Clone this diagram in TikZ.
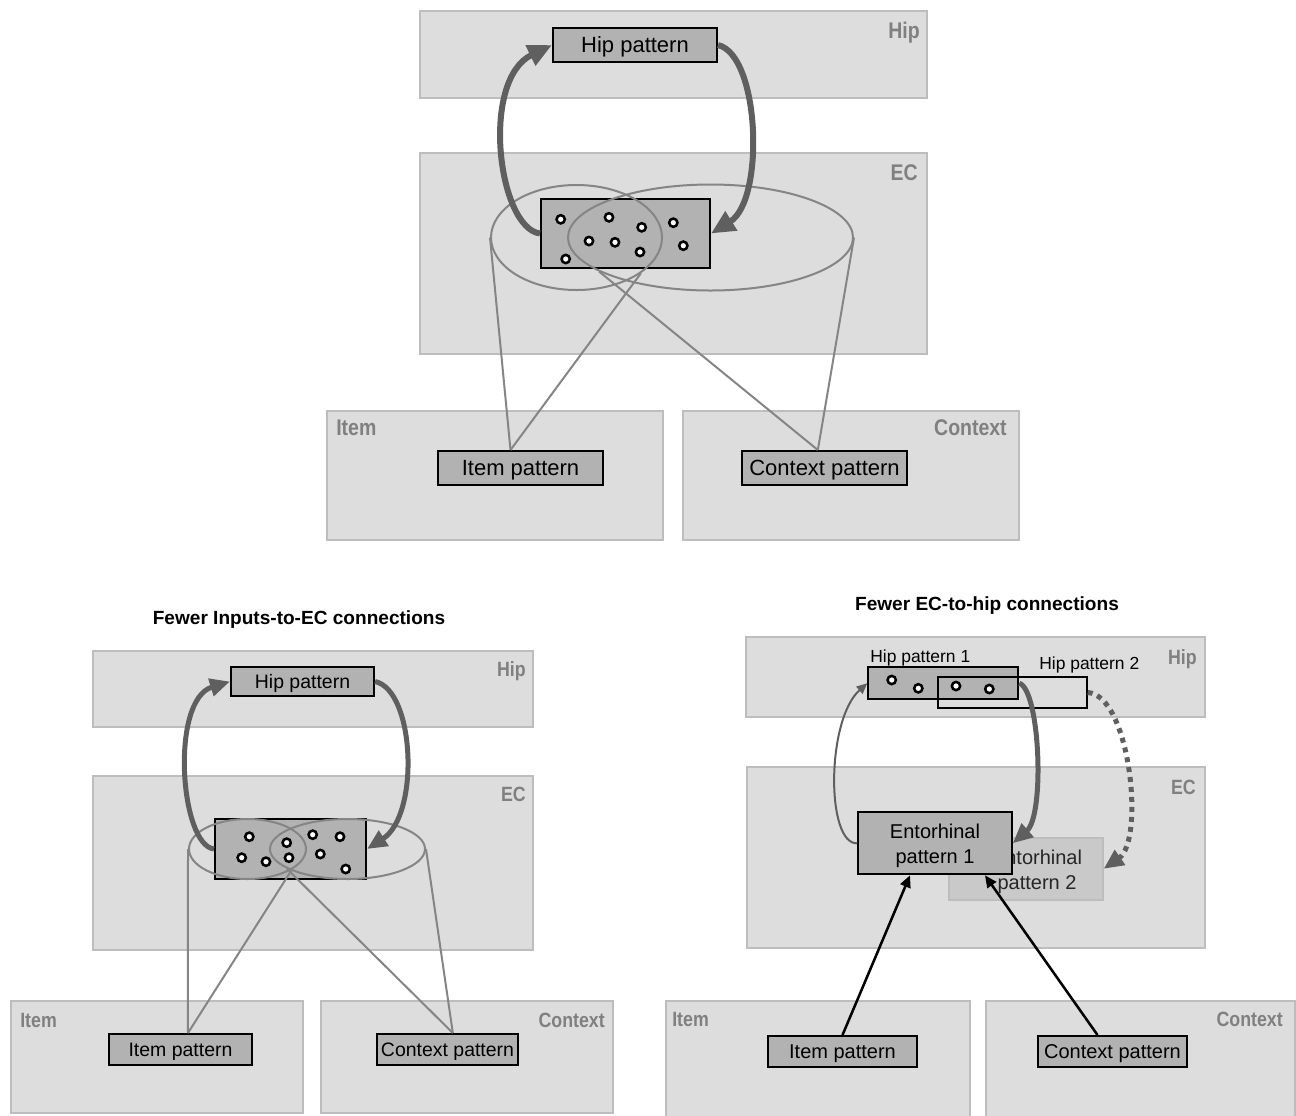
\documentclass[tikz,border=0pt]{standalone}
\usepackage{fontspec}
\setmainfont{Liberation Sans}
\newfontfamily\narrowfont[FakeStretch=0.86]{Liberation Sans}
\usepackage{tikz}
\usetikzlibrary{shapes,arrows.meta,positioning}

\definecolor{regionfill}{HTML}{DDDDDD}
\definecolor{regionline}{HTML}{BDBDBD}
\definecolor{labelgray}{HTML}{808080}
\definecolor{patfill}{HTML}{B2B2B2}
\definecolor{linegray}{HTML}{858585}
\definecolor{arrowgray}{HTML}{5F5F5F}

\newcommand{\patbig}{\fontsize{16.5}{19.8}\selectfont}
\newcommand{\patmid}{\fontsize{15}{18.8}\selectfont}
\newcommand{\patsmall}{\fontsize{14.6}{17.5}\selectfont}
\newcommand{\hiplab}{\fontsize{13.1}{15.7}\selectfont}

\tikzset{
  region/.style={fill=regionfill, draw=regionline, line width=1.6pt},
  reglabel/.style={inner sep=0, text=labelgray, font=\narrowfont\bfseries\fontsize{17}{20}\selectfont},
  reglabelsm/.style={inner sep=0, text=labelgray, font=\narrowfont\bfseries\fontsize{15.5}{18}\selectfont},
  pat/.style={draw, fill=patfill, line width=1.5pt, inner sep=0, text depth=0pt},
  dot/.style={circle, draw, fill=white, line width=1.9pt, minimum size=6.2pt, inner sep=0},
  oval/.style={ellipse, draw=linegray, line width=1.5pt, inner sep=0},
  link/.style={draw=linegray, line width=1.5pt},
  loopbig/.style={draw=arrowgray, line width=4.5pt, -{Triangle[length=18pt,width=16pt]}},
  loopmid/.style={draw=arrowgray, line width=3.75pt, -{Triangle[length=15pt,width=13pt]}},
  loopthin/.style={draw=arrowgray, line width=1.5pt, -{Triangle[length=8pt,width=7pt]}},
  loopdots/.style={draw=arrowgray, line width=3.75pt, dash pattern=on 3.75pt off 3.75pt, -{Triangle[length=15pt,width=13pt]}},
  feed/.style={draw=black, line width=1.9pt, -{Triangle[length=9pt,width=8pt]}},
  paneltitle/.style={inner sep=0, font=\bfseries\fontsize{14.3}{17}\selectfont}
}

\begin{document}
\begin{tikzpicture}[x=0.75pt,y=-0.75pt]
    \useasboundingbox (0,0) rectangle (1296,1115);

    % Top panel: regions
    \draw[region] (420,11) rectangle (927,98);
    \draw[region] (420,153) rectangle (927,354);
    \draw[region] (327,411) rectangle (663,540);
    \draw[region] (683,411) rectangle (1019,540);
    \node[reglabel, anchor=base east] (hiplabA) at (920,38) {Hip};
    \node[reglabel, anchor=base east] (eclabA) at (918,180) {EC};
    \node[reglabel, anchor=base west] (itemlabA) at (336,435) {Item};
    \node[reglabel, anchor=base east] (ctxlabA) at (1007,435) {Context};

    % Top panel: patterns
    \node[pat, minimum width=123pt, minimum height=25.5pt, font=\patbig] (hip) at (635,45) {Hip pattern};
    \node[pat, minimum width=126.75pt, minimum height=51.75pt] (ecpat) at (625.5,233.5) {};
    \node[pat, minimum width=123.75pt, minimum height=25.5pt, font=\patbig] (item) at (520.5,468) {Item pattern};
    \node[pat, minimum width=123.75pt, minimum height=25.5pt, font=\patbig] (ctx) at (824.5,468) {Context pattern};
    \foreach \x/\y [count=\i] in {560.7/219.3, 609/217.3, 641.7/227.3, 673.3/222.7, 589/241,
                                  615/242.3, 640/252, 683.3/245.7, 565.7/259} {
        \node[dot] (dotA\i) at (\x,\y) {};
    }

    % Top panel: input fields
    \node[oval, minimum width=128.25pt, minimum height=78.75pt] (ellL) at (576.5,237.5) {};
    \node[oval, minimum width=213.75pt, minimum height=79.5pt] (ellR) at (710.5,237.5) {};
    \coordinate (itemtop) at ([xshift=-7.5pt]item.north);
    \coordinate (ctxtop) at ([xshift=-5pt]ctx.north);
    \draw[link] (itemtop) -- (ellL.west);
    \draw[link] (itemtop) -- (ellL.-29);
    \draw[link] (ctxtop) -- (ellR.east);
    \draw[link] (ctxtop) -- (ellR.197);

    % Top panel: loop
    \draw[loopbig] (ecpat.west) .. controls (498,228) and (480,80) .. (hip.west);
    \draw[loopbig] (hip.east) .. controls (760,55) and (765,200) .. (ecpat.east);

    % Bottom left panel
    \node[paneltitle] (titleB) at (299,620) {Fewer Inputs-to-EC connections};
    \draw[region] (93,651) rectangle (533,727);
    \draw[region] (93,776) rectangle (533,950);
    \draw[region] (11,1001) rectangle (303,1113);
    \draw[region] (321,1001) rectangle (613,1113);
    \node[reglabelsm, anchor=base east] (hiplabB) at (526,676) {Hip};
    \node[reglabelsm, anchor=base east] (eclabB) at (526,801) {EC};
    \node[reglabelsm, anchor=base west] (itemlabB) at (20,1027) {Item};
    \node[reglabelsm, anchor=base east] (ctxlabB) at (605,1027) {Context};

    \node[pat, minimum width=107.25pt, minimum height=21.75pt, font=\patsmall] (hipB) at (302.5,681.5) {Hip pattern};
    \node[pat, minimum width=113.25pt, minimum height=45pt] (ecB) at (290.5,849) {};
    \node[pat, minimum width=107.25pt, minimum height=23.25pt, font=\patsmall] (itemB) at (180.5,1049.5) {Item pattern};
    \node[pat, minimum width=105.75pt, minimum height=23.25pt, font=\patsmall] (ctxB) at (447.5,1049.5) {Context pattern};
    \foreach \x/\y [count=\i] in {249.3/836.7, 286.7/842.7, 312.7/834.7, 340/836.7, 241.7/857.7,
                                  266/861.7, 289/857.7, 320.3/854, 345.7/869} {
        \node[dot] (dotB\i) at (\x,\y) {};
    }
    \node[oval, minimum width=87.75pt, minimum height=45pt] (ellBL) at (247.5,849) {};
    \node[oval, minimum width=116.25pt, minimum height=45pt] (ellBR) at (347.5,849) {};
    \coordinate (itemtopB) at ([xshift=5.6pt]itemB.north);
    \coordinate (ctxtopB) at ([xshift=4pt]ctxB.north);
    \draw[link] (itemtopB) -- (ellBL.west);
    \draw[link] (itemtopB) -- (ellBL.-25);
    \draw[link] (ctxtopB) -- (ellBR.east);
    \draw[link] (ctxtopB) -- (ellBR.198);
    \draw[loopmid] (ecB.west) .. controls (180,845) and (170,700) .. (hipB.west);
    \draw[loopmid] (hipB.east) .. controls (415,690) and (420,815) .. (ecB.east);

    % Bottom right panel
    \node[paneltitle] (titleC) at (987,606) {Fewer EC-to-hip connections};
    \draw[region] (746,637) rectangle (1205,717);
    \draw[region] (747,767) rectangle (1205,948);
    \draw[region] (666,1001) rectangle (970,1125);
    \draw[region] (986,1001) rectangle (1295,1125);
    \node[reglabelsm, anchor=base east] (hiplabC) at (1197,664) {Hip};
    \node[reglabelsm, anchor=base east] (eclabC) at (1196,794) {EC};
    \node[reglabelsm, anchor=base west] (itemlabC) at (672,1026) {Item};
    \node[reglabelsm, anchor=base east] (ctxlabC) at (1283,1026) {Context};

    \node[pat, minimum width=112.5pt, minimum height=24pt] (hp1) at (943.3,683.2) {};
    \foreach \x/\y [count=\i] in {891.7/680, 918.3/688.3, 956/686, 989.3/689} {
        \node[dot] (dotC\i) at (\x,\y) {};
    }
    \node[pat, fill=none, minimum width=111.3pt, minimum height=23.7pt] (hp2) at (1012.5,692.5) {};
    \node[inner sep=0, anchor=base west, font=\hiplab] (hp1lab) at (870,662) {Hip pattern 1};
    \node[inner sep=0, anchor=base west, font=\hiplab] (hp2lab) at (1039,669) {Hip pattern 2};

    \node[draw=regionline, fill=black!21, line width=1.5pt, inner sep=0,
          minimum width=115pt, minimum height=46.7pt] (ent2) at (1026,868.8) {};
    \node[align=center, inner sep=0, text depth=0pt, text=black!85, font=\patmid] (ent2lab) at (1037,869.5) {Entorhinal\\pattern 2};
    \node[pat, align=center, minimum width=115pt, minimum height=46.5pt, font=\patmid] (ent1) at (935,843.3) {Entorhinal\\pattern 1};

    \node[pat, minimum width=111.75pt, minimum height=23.25pt, font=\patmid] (itemC) at (842.5,1051.5) {Item pattern};
    \node[pat, minimum width=111.75pt, minimum height=23.25pt, font=\patmid] (ctxC) at (1112.5,1051.5) {Context pattern};

    \draw[loopthin] (ent1.west) .. controls (826,845) and (826,720) .. (hp1.west);
    \draw[loopmid] (hp1.east) .. controls (1040,690) and (1045,815) .. (ent1.east);
    \draw[loopdots] (hp2.east) .. controls (1130,695) and (1145,840) .. (ent2.east);
    \draw[feed] (itemC.north) -- ([xshift=-18.75pt]ent1.south);
    \draw[feed] ([xshift=-11.25pt]ctxC.north) -- ([xshift=37.5pt]ent1.south);
\end{tikzpicture}
\end{document}
